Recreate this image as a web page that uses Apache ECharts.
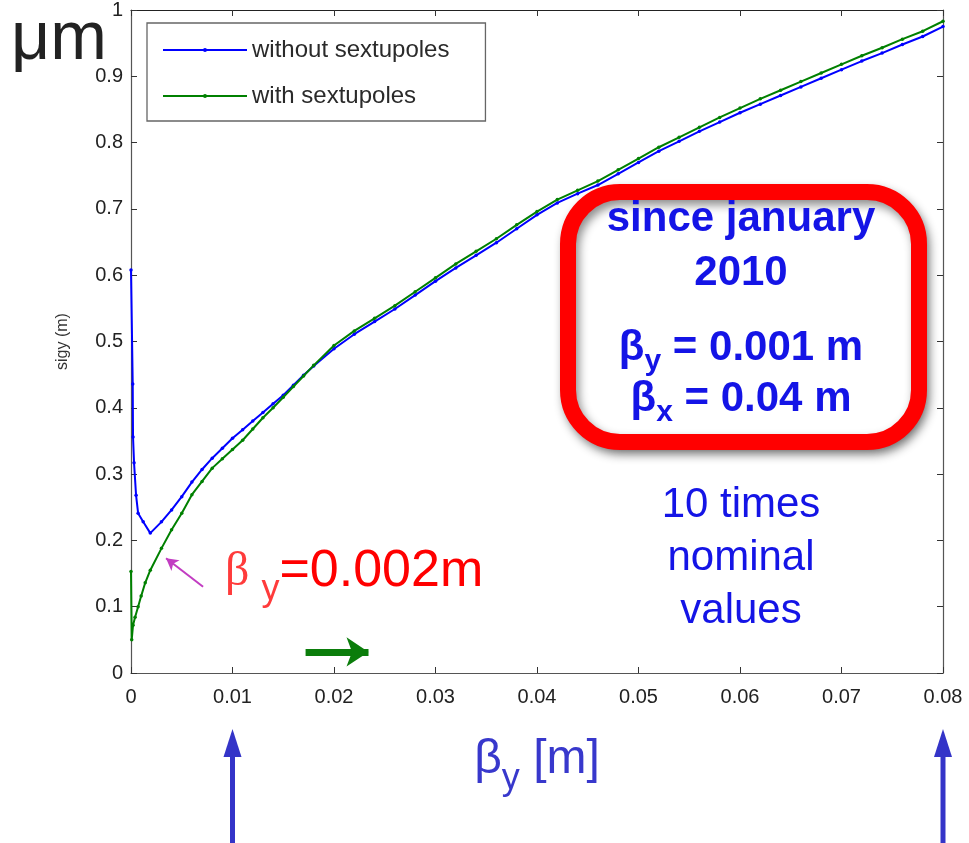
<!DOCTYPE html>
<html><head><meta charset="utf-8">
<script src="https://cdn.jsdelivr.net/npm/echarts@6/dist/echarts.min.js"></script>
<style>html,body{margin:0;padding:0;background:#fff}#c{width:969px;height:843px}</style>
</head><body><div id="c"></div>
<script>
// ---- data ----
const xTickLabels = ['0','0.01','0.02','0.03','0.04','0.05','0.06','0.07','0.08'];
const yTickLabels = ['0','0.1','0.2','0.3','0.4','0.5','0.6','0.7','0.8','0.9','1'];

const blueX = [0, 0.00017, 0.0002, 0.0003, 0.0005, 0.0007, 0.0012, 0.0019, 0.003, 0.004, 0.005, 0.006, 0.007, 0.008, 0.009, 0.010, 0.011, 0.012, 0.013, 0.014, 0.015, 0.016, 0.017, 0.018,
  0.020, 0.022, 0.024, 0.026, 0.028, 0.030, 0.032, 0.034, 0.036, 0.038, 0.040, 0.042, 0.044, 0.046, 0.048, 0.050, 0.052, 0.054, 0.056, 0.058, 0.060, 0.062, 0.064, 0.066, 0.068, 0.070, 0.072, 0.074, 0.076, 0.078, 0.080];
const blueY = [0.608, 0.436, 0.356, 0.317, 0.268, 0.241, 0.228, 0.211, 0.228, 0.246, 0.266, 0.288, 0.307, 0.324, 0.339, 0.354, 0.367, 0.380, 0.393, 0.406, 0.419, 0.434, 0.449, 0.463,
  0.489, 0.511, 0.530, 0.549, 0.570, 0.591, 0.611, 0.630, 0.649, 0.670, 0.691, 0.709, 0.723, 0.736, 0.753, 0.770, 0.787, 0.802, 0.817, 0.831, 0.845, 0.858, 0.871, 0.884, 0.897, 0.910, 0.923, 0.935, 0.948, 0.960, 0.975];

const greenX = [0, 0.00007, 0.0002, 0.0004, 0.0007, 0.001, 0.0014, 0.0019, 0.003, 0.004, 0.005, 0.006, 0.007, 0.008, 0.009, 0.010, 0.011, 0.012, 0.013, 0.014, 0.015, 0.016, 0.017, 0.018,
  0.020, 0.022, 0.024, 0.026, 0.028, 0.030, 0.032, 0.034, 0.036, 0.038, 0.040, 0.042, 0.044, 0.046, 0.048, 0.050, 0.052, 0.054, 0.056, 0.058, 0.060, 0.062, 0.064, 0.066, 0.068, 0.070, 0.072, 0.074, 0.076, 0.078, 0.080];
const greenY = [0.153, 0.050, 0.072, 0.084, 0.100, 0.116, 0.136, 0.155, 0.188, 0.216, 0.241, 0.269, 0.289, 0.309, 0.323, 0.337, 0.351, 0.368, 0.385, 0.400, 0.416, 0.432, 0.448, 0.464,
  0.494, 0.516, 0.535, 0.554, 0.575, 0.596, 0.617, 0.636, 0.655, 0.676, 0.696, 0.714, 0.728, 0.742, 0.759, 0.776, 0.793, 0.808, 0.823, 0.838, 0.852, 0.866, 0.879, 0.892, 0.905, 0.918, 0.931, 0.943, 0.956, 0.968, 0.983];

const seriesNames = ['without sextupoles', 'with sextupoles'];
// annotation anchor points (data coordinates)
const pinkArrow = [[0.0071, 0.13], [0.00345, 0.173]];
const greenArrow = [[0.0172, 0.0318], [0.0234, 0.0318]];
const bottomArrowX = [0.01, 0.08];

const zip = (xs, ys) => xs.map((x, i) => [x, ys[i]]);

const FONT = 'Liberation Sans, Arial, sans-serif';
const BLUE_TXT = '#1414e6';

const chart = echarts.init(document.getElementById('c'), null, {renderer: 'canvas'});

function axisBase(pos, isX, lineColor) {
  return {
    type: 'value', position: pos,
    min: 0, max: isX ? 0.08 : 1, interval: isX ? 0.01 : 0.1,
    axisLine: {show: true, onZero: false, lineStyle: {color: lineColor, width: 1.2}},
    axisTick: {show: true, inside: true, length: 6, lineStyle: {color: '#333', width: 1}},
    splitLine: {show: false},
  };
}

const option = {
  animation: false,
  backgroundColor: '#fff',
  grid: {left: 131, right: 26, top: 9, bottom: 170, containLabel: false},
  legend: {
    orient: 'vertical', left: 147, top: 23,
    padding: [15, 36, 13, 15],
    itemWidth: 84, itemHeight: 5, itemGap: 22,
    backgroundColor: '#fff', borderColor: '#666', borderWidth: 1.3,
    textStyle: {fontSize: 24, color: '#2a2a2a', fontFamily: FONT, lineHeight: 24},
    data: seriesNames, selectedMode: false, z: 10
  },
  xAxis: [
    Object.assign(axisBase('bottom', true, '#555'), {
      axisLabel: {fontSize: 20, color: '#222', fontFamily: FONT, margin: 14,
        formatter: (v) => xTickLabels[Math.round(v / 0.01)]},
      name: '{b|β}{s|y}{m| [m]}', nameLocation: 'middle', nameGap: 50,
      nameTextStyle: {
        rich: {
          b: {fontSize: 48, color: '#3838cc', fontFamily: FONT, lineHeight: 74},
          m: {fontSize: 48, color: '#3838cc', fontFamily: FONT, lineHeight: 74},
          s: {fontSize: 36, color: '#3838cc', fontFamily: FONT, lineHeight: 36, verticalAlign: 'bottom'}
        }
      }
    }),
    Object.assign(axisBase('top', true, '#222'), {axisLabel: {show: false}})
  ],
  yAxis: [
    Object.assign(axisBase('left', false, '#555'), {
      axisLabel: {fontSize: 20, color: '#222', fontFamily: FONT, margin: 8,
        formatter: (v) => yTickLabels[Math.round(v / 0.1)]},
      name: 'sigy (m)', nameLocation: 'middle', nameRotate: 90, nameGap: 60,
      nameTextStyle: {fontSize: 16, color: '#333', fontFamily: FONT}
    }),
    Object.assign(axisBase('right', false, '#555'), {axisLabel: {show: false}})
  ],
  series: [
    {
      name: seriesNames[0], type: 'line', data: zip(blueX, blueY),
      symbol: 'circle', symbolSize: 3.5, showSymbol: true,
      lineStyle: {color: '#0000ff', width: 2}, itemStyle: {color: '#0000ff'},
      z: 2,
      markLine: {
        silent: true, animation: false,
        symbol: ['none', 'arrow'], symbolSize: [22, 22],
        label: {show: false},
        lineStyle: {color: '#0b7d0b', width: 7, type: 'solid'},
        data: [[{coord: greenArrow[0]}, {coord: greenArrow[1]}]]
      }
    },
    {
      name: seriesNames[1], type: 'line', data: zip(greenX, greenY),
      symbol: 'circle', symbolSize: 3.5, showSymbol: true,
      lineStyle: {color: '#008000', width: 2}, itemStyle: {color: '#008000'},
      z: 3,
      markLine: {
        silent: true, animation: false,
        symbol: ['none', 'arrow'], symbolSize: [10, 12],
        label: {show: false},
        lineStyle: {color: '#c23cc2', width: 2, type: 'solid'},
        data: [[{coord: pinkArrow[0]}, {coord: pinkArrow[1]}]]
      }
    }
  ]
};
chart.setOption(option);

// ---- annotations ----
const g = [];
g.push({type: 'text', left: 11, top: 6, z: 20,
  style: {text: 'μm', fontSize: 68, fontFamily: FONT, fill: '#222'}});

// red rounded box with shadow
g.push({type: 'rect', z: 30,
  shape: {x: 568, y: 192, width: 351, height: 250, r: 52},
  style: {fill: '#fff', stroke: '#ff0000', lineWidth: 16,
    shadowBlur: 10, shadowColor: 'rgba(0,0,0,0.45)', shadowOffsetX: 3, shadowOffsetY: 5}});
const boldBlue = {fontSize: 42, fontWeight: 'bold', fontFamily: FONT, fill: BLUE_TXT};
g.push({type: 'text', z: 31, x: 741, y: 219,
  style: Object.assign({text: 'since january', align: 'center', verticalAlign: 'middle'}, boldBlue)});
g.push({type: 'text', z: 31, x: 741, y: 273,
  style: Object.assign({text: '2010', align: 'center', verticalAlign: 'middle'}, boldBlue)});
function subText(main, sub, rest, y) {
  return {type: 'text', z: 31, x: 741, y: y,
    style: {text: '{b|' + main + '}{s|' + sub + '}{b|' + rest + '}', align: 'center', verticalAlign: 'middle',
      rich: {
        b: {fontSize: 42, fontWeight: 'bold', fontFamily: FONT, fill: BLUE_TXT, lineHeight: 58},
        s: {fontSize: 30, fontWeight: 'bold', fontFamily: FONT, fill: BLUE_TXT, lineHeight: 30, verticalAlign: 'bottom'}
      }}};
}
g.push(subText('β', 'y', ' = 0.001 m', 348));
g.push(subText('β', 'x', ' = 0.04 m', 399));

g.push({type: 'text', z: 31, x: 741, y: 558,
  style: {text: '10 times\nnominal\nvalues', align: 'center', verticalAlign: 'middle',
    fontSize: 42, fontFamily: FONT, fill: BLUE_TXT, lineHeight: 53}});

// red beta annotation
g.push({type: 'text', z: 31, x: 225, y: 572,
  style: {text: '{g|β }{gs|y}{r|=0.002m}', align: 'left', verticalAlign: 'middle',
    rich: {
      g: {fontSize: 48, fontFamily: 'Liberation Serif, serif', fill: '#ff3b3b', lineHeight: 72},
      gs: {fontSize: 36, fontFamily: FONT, fill: '#ff3b3b', lineHeight: 36, verticalAlign: 'bottom'},
      r: {fontSize: 52, fontFamily: FONT, fill: '#ff0000', lineHeight: 72}
    }}});

// bottom blue arrows
bottomArrowX.forEach((v) => {
  const px = chart.convertToPixel({xAxisIndex: 0}, v);
  g.push({type: 'polygon', z: 20, shape: {points: [[px, 729], [px - 9, 757], [px + 9, 757]]},
    style: {fill: '#3434c8'}});
  g.push({type: 'rect', z: 20, shape: {x: px - 2.5, y: 750, width: 5, height: 95},
    style: {fill: '#3434c8'}});
});

chart.setOption({graphic: g});
</script>
</body></html>
